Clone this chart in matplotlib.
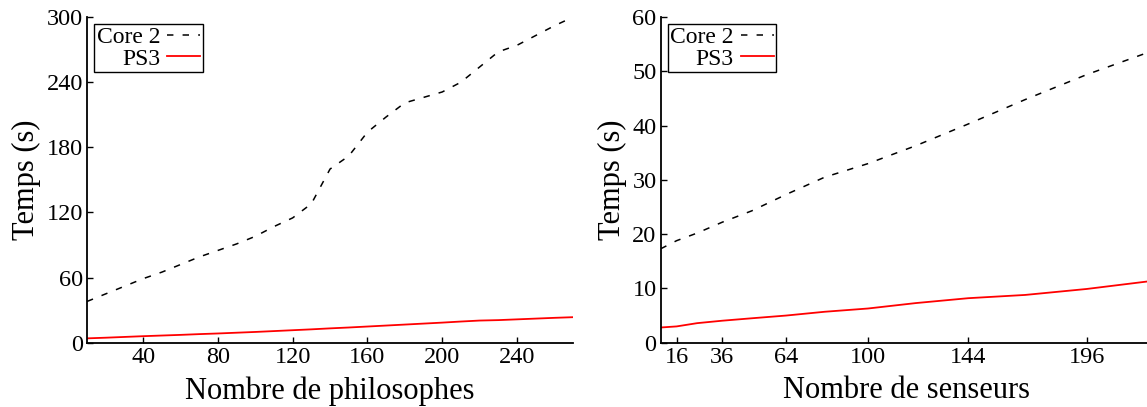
import matplotlib
matplotlib.use("Agg")
import matplotlib.pyplot as plt

# philosophes (left panel)
philosophes = [10, 20, 30, 40, 50, 60, 70, 80, 90, 100, 110, 120, 130, 140,
               150, 160, 170, 180, 190, 200, 210, 220, 230, 240, 250, 260, 270]
phil_core2 = [38, 45, 52, 59, 65, 72, 79, 85, 91, 98, 107, 115, 128, 160,
              172, 194, 208, 221, 226, 231, 240, 254, 268, 274, 283, 292, 300]
phil_ps3 = [4.0, 4.6, 5.3, 6.0, 6.6, 7.2, 7.9, 8.5, 9.2, 9.9, 10.7, 11.5, 12.3, 13.2,
            14.0, 14.9, 15.8, 16.7, 17.6, 18.5, 19.5, 20.4, 20.8, 21.5, 22.2, 22.9, 23.5]

# senseurs (right panel)
senseurs = [9, 16, 25, 36, 49, 64, 81, 100, 121, 144, 169, 196, 225]
sens_core2 = [17.3, 18.8, 20.2, 22.2, 24.3, 27.3, 30.5, 33.0, 36.3, 40.3, 44.8, 49.4, 53.8]
sens_ps3 = [2.8, 3.0, 3.6, 4.05, 4.5, 5.0, 5.7, 6.3, 7.3, 8.2, 8.8, 9.9, 11.4]

phil_xticks = [40, 80, 120, 160, 200, 240]
phil_yticks = [0, 60, 120, 180, 240, 300]
sens_xticks = [16, 36, 64, 100, 144, 196]
sens_yticks = [0, 10, 20, 30, 40, 50, 60]

plt.rcParams['font.family'] = ['Liberation Serif', 'DejaVu Serif']

fig = plt.figure(figsize=(11.47, 4.07), dpi=100)
ax1 = fig.add_axes([0.0759, 0.158, 0.4237, 0.800])
ax2 = fig.add_axes([0.576, 0.158, 0.429, 0.800])


def draw(ax, x, core2, ps3, xlim, ylim, xticks, yticks, xlabel):
    ax.plot(x, core2, color='black', lw=1.1, dashes=(4.2, 6.0), label='Core 2')
    ax.plot(x, ps3, color='red', lw=1.3, label='PS3')
    ax.set_xlim(*xlim)
    ax.set_ylim(*ylim)
    ax.set_xticks(xticks)
    ax.set_yticks(yticks)
    ax.spines['top'].set_visible(False)
    ax.spines['right'].set_visible(False)
    for s in ('left', 'bottom'):
        ax.spines[s].set_linewidth(1.3)
    ax.tick_params(direction='in', length=4, width=1, labelsize=17.5, pad=3)
    ax.set_xlabel(xlabel, fontsize=22, labelpad=6)
    ax.set_ylabel('Temps (s)', fontsize=22, labelpad=4)
    leg = ax.legend(loc='upper left', bbox_to_anchor=(0, 1), markerfirst=False,
                    fontsize=17, frameon=True, fancybox=False, framealpha=1,
                    edgecolor='black', borderpad=0.1, labelspacing=0.0,
                    handlelength=1.4, handletextpad=0.3, borderaxespad=0.3)
    leg.get_frame().set_linewidth(1.0)


draw(ax1, philosophes, phil_core2, phil_ps3, (10, 270), (0, 300),
     phil_xticks, phil_yticks, 'Nombre de philosophes')
draw(ax2, senseurs, sens_core2, sens_ps3, (9, 225), (0, 60),
     sens_xticks, sens_yticks, 'Nombre de senseurs')

fig.savefig('out.png', dpi=100)
